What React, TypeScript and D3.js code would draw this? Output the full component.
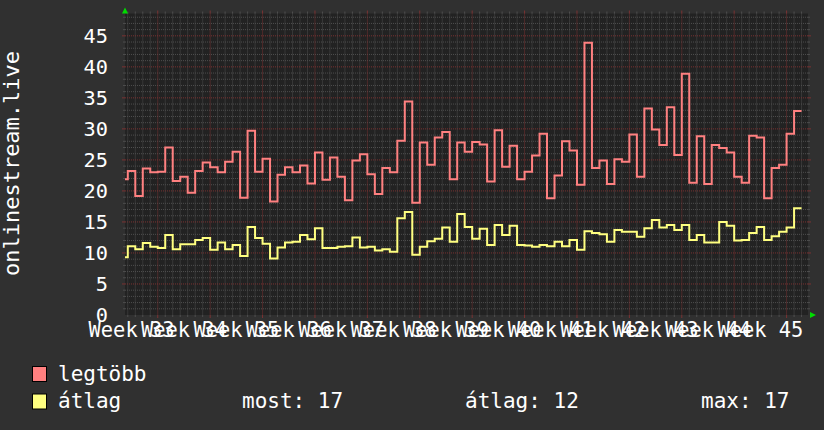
import React from "react";
import * as d3 from "d3";

const maxValues = [21.9, 23.2, 19.2, 23.6, 23.0, 23.1, 27.0, 21.6, 22.3, 19.7, 23.2, 24.6, 23.8, 23.0, 24.7, 26.3, 18.9, 29.7, 23.1, 25.2, 18.3, 22.6, 23.8, 23.0, 24.1, 21.2, 26.2, 21.8, 25.4, 22.3, 18.5, 24.9, 25.9, 22.7, 19.5, 23.7, 23.0, 28.1, 34.4, 18.1, 27.8, 24.2, 28.6, 29.5, 21.9, 27.8, 26.3, 27.9, 27.5, 21.5, 29.8, 23.9, 27.3, 21.9, 23.1, 25.7, 29.2, 18.8, 22.5, 28.0, 26.5, 21.0, 43.9, 23.7, 24.9, 21.1, 25.1, 24.7, 29.1, 22.3, 33.3, 29.9, 27.4, 33.5, 25.8, 38.9, 21.3, 28.8, 21.1, 27.4, 26.9, 26.2, 22.3, 21.3, 28.9, 28.6, 18.8, 23.7, 24.2, 29.2, 32.9];
const avgValues = [9.3, 11.1, 10.6, 11.6, 11.0, 10.8, 12.9, 10.6, 11.4, 11.4, 12.1, 12.4, 10.5, 11.7, 10.6, 11.3, 9.5, 14.2, 12.4, 11.5, 9.1, 10.9, 11.7, 11.8, 12.9, 12.2, 14.0, 10.8, 10.8, 11.0, 11.1, 12.5, 10.9, 11.0, 10.4, 10.6, 10.2, 15.6, 16.6, 9.7, 11.0, 11.9, 12.3, 14.1, 11.8, 16.3, 14.2, 12.3, 13.9, 11.3, 14.5, 12.9, 14.4, 11.3, 11.2, 11.0, 11.3, 11.1, 11.8, 11.1, 12.1, 10.5, 13.5, 13.2, 13.0, 11.8, 13.7, 13.4, 13.4, 12.6, 14.0, 15.3, 14.1, 14.5, 13.7, 14.5, 12.1, 12.9, 11.7, 11.7, 15.0, 14.4, 12.0, 12.1, 13.2, 14.2, 12.1, 12.7, 13.4, 14.1, 17.2];
const weekLabels = ["Week 33", "Week 34", "Week 35", "Week 36", "Week 37", "Week 38", "Week 39", "Week 40", "Week 41", "Week 42", "Week 43", "Week 44", "Week 45"];
const yTickValues = [0, 5, 10, 15, 20, 25, 30, 35, 40, 45];
const legendNames = ["legtöbb", "átlag"];
const seriesColors = ["#ff8080", "#ffff80"];
const statLabels = ["most: 17", "átlag: 12", "max: 17"];

const W = 824;
const H = 430;
const PL = 125;
const PR = 808;
const PT = 13.5;
const PB = 315;
const FONT = "'DejaVu Sans Mono', monospace";

export default function App() {
  const x = d3.scaleLinear().domain([-0.374, 90.86]).range([PL, PR]);
  const y = d3.scaleLinear().domain([0, 48.6]).range([PB, PT]);

  const toPts = (vals: number[]) => {
    const pts: [number, number][] = vals.map((v, i) => [i - 1, v]);
    pts.push([vals.length - 1, vals[vals.length - 1]]);
    return pts;
  };
  const line = d3
    .line<[number, number]>()
    .x((d) => x(d[0]))
    .y((d) => y(d[1]))
    .curve(d3.curveStepAfter);

  const dayTicks = d3.range(0, 91);
  const weekTicks = d3.range(4, 89, 7);
  const minorY = d3.range(1, 49).filter((v) => v % 5 !== 0);
  const majorY = d3.range(5, 49, 5);

  const minorCol = "#4e4e4e";
  const majorCol = "#7a3232";

  return (
    <svg width={W} height={H} style={{ display: "block", position: "absolute", left: 0, top: 0 }}>
      <defs>
        <clipPath id="plotclip">
          <rect x={PL} y={PT} width={PR - PL} height={PB - PT} />
        </clipPath>
      </defs>
      <rect x={0} y={0} width={W} height={H} fill="#303030" />
      <rect x={PL} y={PT} width={PR - PL} height={PB - PT} fill="#222222" />

      {/* minor grid */}
      {dayTicks
        .filter((d) => !weekTicks.includes(d))
        .map((d) => (
          <g key={"vx" + d}>
            <line x1={x(d)} x2={x(d)} y1={PT} y2={PB} stroke={minorCol} strokeDasharray="1,1" />
            <line x1={x(d)} x2={x(d)} y1={PB} y2={PB + 2} stroke={minorCol} />
            <line x1={x(d)} x2={x(d)} y1={PT - 2} y2={PT} stroke={minorCol} />
          </g>
        ))}
      {minorY.map((v) => (
        <g key={"hy" + v}>
          <line x1={PL} x2={PR} y1={y(v)} y2={y(v)} stroke={minorCol} strokeDasharray="1,1" />
          <line x1={PL - 2} x2={PL} y1={y(v)} y2={y(v)} stroke={minorCol} />
          <line x1={PR} x2={PR + 2} y1={y(v)} y2={y(v)} stroke={minorCol} />
        </g>
      ))}
      {/* major grid */}
      {weekTicks.map((d) => (
        <g key={"wx" + d}>
          <line x1={x(d)} x2={x(d)} y1={PT} y2={PB} stroke={majorCol} strokeDasharray="1,1" />
          <line x1={x(d)} x2={x(d)} y1={PB} y2={PB + 3} stroke={majorCol} />
          <line x1={x(d)} x2={x(d)} y1={PT - 3} y2={PT} stroke={majorCol} />
        </g>
      ))}
      {majorY.map((v) => (
        <g key={"my" + v}>
          <line x1={PL} x2={PR} y1={y(v)} y2={y(v)} stroke={majorCol} strokeDasharray="1,1" />
          <line x1={PL - 3} x2={PL} y1={y(v)} y2={y(v)} stroke={majorCol} />
          <line x1={PR} x2={PR + 3} y1={y(v)} y2={y(v)} stroke={majorCol} />
        </g>
      ))}

      {/* data */}
      <g clipPath="url(#plotclip)">
        <path d={line(toPts(maxValues)) || ""} fill="none" stroke={seriesColors[0]} strokeWidth={2} />
        <path d={line(toPts(avgValues)) || ""} fill="none" stroke={seriesColors[1]} strokeWidth={2} />
      </g>

      {/* arrows */}
      <path d={`M${PL - 3},${PT} L${PL + 3},${PT} L${PL},${PT - 6} Z`} fill="#00dd00" />
      <path d={`M${PR + 2},${PB - 3} L${PR + 2},${PB + 3} L${PR + 8},${PB} Z`} fill="#00dd00" />

      {/* y tick labels */}
      {yTickValues.map((v) => (
        <text key={"yl" + v} x={108} y={y(v) + 7.4} fill="#ffffff" fontFamily={FONT} fontSize={20.3} textAnchor="end">
          {v}
        </text>
      ))}
      {/* x labels */}
      {weekLabels.map((lab, k) => (
        <text key={"xl" + k} x={x(0.5 + 7 * k)} y={336.8} fill="#ffffff" fontFamily={FONT} fontSize={20.4} textAnchor="middle" style={{ whiteSpace: "pre" }}>
          {lab}
        </text>
      ))}
      {/* y title */}
      <text
        transform={`translate(19,${163.5}) rotate(-90)`}
        fill="#ffffff"
        fontFamily={FONT}
        fontSize={22}
        textAnchor="middle"
      >
        onlinestream.live
      </text>

      {/* legend */}
      {legendNames.map((n, i) => (
        <g key={"lg" + i}>
          <rect x={32.5} y={366.5 + i * 27.5} width={14} height={15} fill={seriesColors[i]} stroke="#000" strokeWidth={1} />
          <text x={58} y={380.5 + i * 27.8} fill="#ffffff" fontFamily={FONT} fontSize={21}>
            {n}
          </text>
        </g>
      ))}
      {statLabels.map((s, i) => (
        <text key={"st" + i} x={[242, 465, 701][i]} y={408.3} fill="#ffffff" fontFamily={FONT} fontSize={21} style={{ whiteSpace: "pre" }}>
          {s}
        </text>
      ))}
    </svg>
  );
}
